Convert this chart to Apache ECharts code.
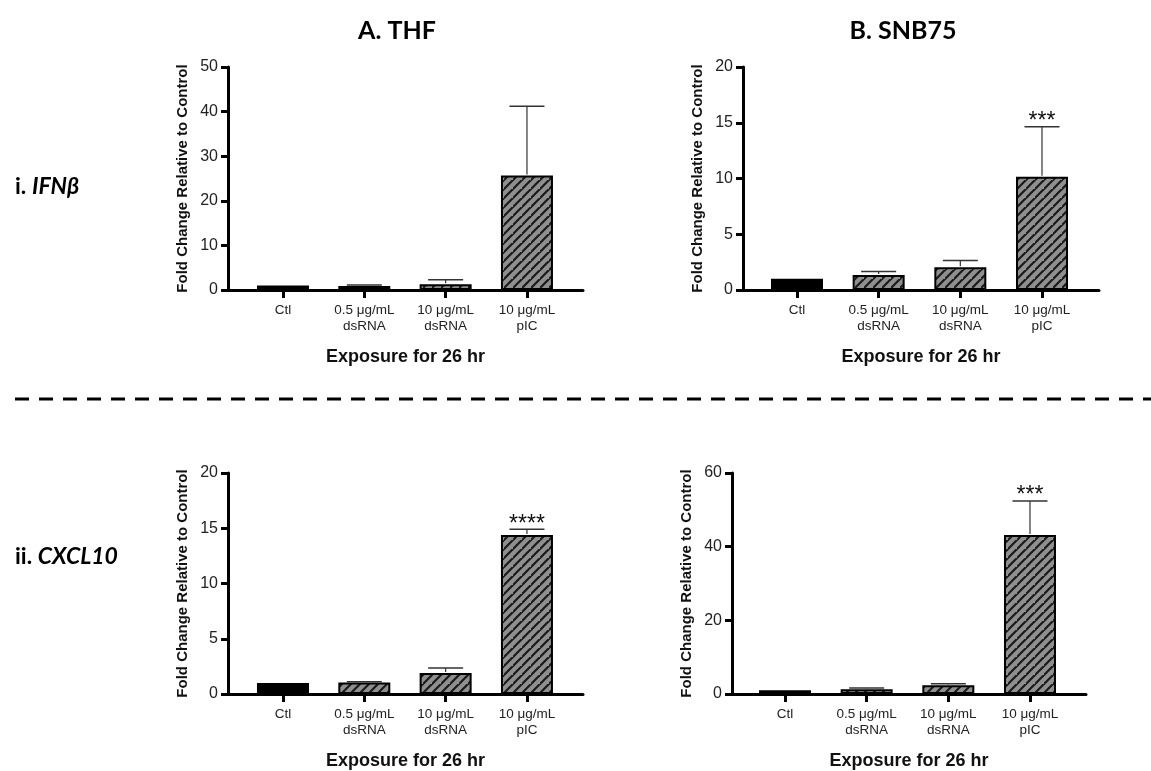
<!DOCTYPE html>
<html>
<head>
<meta charset="utf-8">
<script src="https://cdn.jsdelivr.net/npm/echarts@6/dist/echarts.min.js"></script>
<style>
html,body{margin:0;padding:0;background:#fff;}
#chart{width:1151px;height:771px;}
</style>
</head>
<body>
<div id="chart"></div>
<script>
// ---------- data ----------
const categories = ['Ctl', '0.5 μg/mL\ndsRNA', '10 μg/mL\ndsRNA', '10 μg/mL\npIC'];

const ifnbTHF = [1.0, 0.9, 1.3, 25.7];
const ifnbTHFErr = [0, 0.2, 1.0, 15.5];
const ifnbTHFSig = ['', '', '', ''];

const ifnbSNB75 = [1.0, 1.35, 2.05, 10.15];
const ifnbSNB75Err = [0, 0.3, 0.6, 4.5];
const ifnbSNB75Sig = ['', '', '', '***'];

const cxcl10THF = [1.0, 1.05, 1.9, 14.4];
const cxcl10THFErr = [0, 0.05, 0.45, 0.5];
const cxcl10THFSig = ['', '', '', '****'];

const cxcl10SNB75 = [1.0, 1.3, 2.4, 43.2];
const cxcl10SNB75Err = [0, 0.3, 0.4, 9.2];
const cxcl10SNB75Sig = ['', '', '', '***'];

const yMaxes = [50, 20, 20, 60];
const yIntervals = [10, 5, 5, 20];

const columnTitles = ['A. THF', 'B. SNB75'];
const rowTitles = [['i. ', 'IFNβ'], ['ii. ', 'CXCL10']];
const xAxisTitle = 'Exposure for 26 hr';
const yAxisTitle = 'Fold Change Relative to Control';

// ---------- styles ----------
function makeStripe() {
  const s = 9;
  const c = document.createElement('canvas');
  c.width = s; c.height = s;
  const g = c.getContext('2d');
  g.fillStyle = '#8f8f8f';
  g.fillRect(0, 0, s, s);
  g.strokeStyle = '#1a1a1a';
  g.lineWidth = 2.2;
  g.beginPath();
  g.moveTo(-1, s + 1); g.lineTo(s + 1, -1);
  g.moveTo(-1 - s, s + 1); g.lineTo(1, -1);
  g.moveTo(s - 1, 2 * s + 1); g.lineTo(2 * s + 1, s - 1);
  g.stroke();
  return c;
}
const stripe = { image: makeStripe(), repeat: 'repeat' };
const axisFont = 'Liberation Sans, Arial, sans-serif';

const panels = [
  { vals: ifnbTHF, err: ifnbTHFErr, sig: ifnbTHFSig, grid: { left: 228, top: 67, width: 355, height: 223 } },
  { vals: ifnbSNB75, err: ifnbSNB75Err, sig: ifnbSNB75Sig, grid: { left: 743, top: 67, width: 356, height: 223 } },
  { vals: cxcl10THF, err: cxcl10THFErr, sig: cxcl10THFSig, grid: { left: 228, top: 473, width: 355, height: 222 } },
  { vals: cxcl10SNB75, err: cxcl10SNB75Err, sig: cxcl10SNB75Sig, grid: { left: 732, top: 473, width: 354, height: 222 } }
];
const xRanges = [[-0.676, 3.689], [-0.661, 3.698], [-0.676, 3.689], [-0.649, 3.686]];

const grids = [], xAxes = [], yAxes = [], series = [];
panels.forEach((p, i) => {
  grids.push(p.grid);
  xAxes.push({
    type: 'value', gridIndex: i, min: xRanges[i][0], max: xRanges[i][1],
    splitLine: { show: false },
    axisLine: { show: true, lineStyle: { color: '#000', width: 3 } },
    axisTick: { show: true, customValues: [0, 1, 2, 3], length: 8, lineStyle: { color: '#000', width: 3 } },
    axisLabel: {
      customValues: [0, 1, 2, 3], margin: 12,
      formatter: v => categories[Math.round(v)],
      color: '#222', fontFamily: axisFont, fontSize: 13.5, lineHeight: 16
    },
    name: xAxisTitle, nameLocation: 'middle', nameGap: 58,
    nameTextStyle: { color: '#111', fontFamily: axisFont, fontSize: 18, fontWeight: 'bold' }
  });
  yAxes.push({
    type: 'value', gridIndex: i, min: 0, max: yMaxes[i], interval: yIntervals[i],
    splitLine: { show: false },
    axisLine: { show: true, onZero: false, lineStyle: { color: '#000', width: 3 } },
    axisTick: { show: true, length: 7, lineStyle: { color: '#000', width: 3 } },
    axisLabel: { margin: 10, color: '#222', fontFamily: axisFont, fontSize: 16 },
    name: yAxisTitle, nameLocation: 'middle', nameGap: 38,
    nameTextStyle: { color: '#111', fontFamily: axisFont, fontSize: 15, fontWeight: 'bold' }
  });
  series.push({
    type: 'bar', xAxisIndex: i, yAxisIndex: i, barWidth: 52,
    data: p.vals.map((v, k) => ({
      value: [k, v],
      itemStyle: { color: k === 0 ? '#000' : stripe, borderColor: '#000', borderWidth: 2 }
    })),
    z: 2
  });
  series.push({
    type: 'custom', xAxisIndex: i, yAxisIndex: i, z: 5,
    data: p.vals.map((v, k) => [k, v]),
    renderItem: (params, api) => {
      const idx = params.dataIndex;
      const x = api.value(0), v = api.value(1), e = p.err[idx], s = p.sig[idx];
      const children = [];
      const top = api.coord([x, v + e]);
      const base = api.coord([x, v]);
      if (e > 0) {
        children.push({ type: 'line', shape: { x1: base[0], y1: base[1] - 1, x2: top[0], y2: top[1] }, style: { stroke: '#333', lineWidth: 1.2 } });
        children.push({ type: 'line', shape: { x1: top[0] - 17.5, y1: top[1], x2: top[0] + 17.5, y2: top[1] }, style: { stroke: '#333', lineWidth: 1.5 } });
      }
      if (s) {
        children.push({ type: 'text', style: { text: s, x: top[0], y: top[1] - 5, align: 'center', verticalAlign: 'middle', fill: '#111', font: '23px "Liberation Sans", Arial, sans-serif' } });
      }
      return { type: 'group', children };
    }
  });
});

const titleFont = 'Lato, "Open Sans", sans-serif';
const richRow = {
  a: { fontFamily: titleFont, fontWeight: 'bold', fontSize: 23, fill: '#000' },
  b: { fontFamily: titleFont, fontWeight: 'bold', fontStyle: 'italic', fontSize: 23, fill: '#000' }
};
const chart = echarts.init(document.getElementById('chart'), null, { renderer: 'canvas' });
chart.setOption({
  animation: false,
  backgroundColor: '#fff',
  grid: grids, xAxis: xAxes, yAxis: yAxes, series,
  graphic: [
    { type: 'text', style: { text: columnTitles[0], x: 397, y: 31, align: 'center', verticalAlign: 'middle', fill: '#000', font: 'bold 25px ' + titleFont } },
    { type: 'text', style: { text: columnTitles[1], x: 903, y: 31, align: 'center', verticalAlign: 'middle', fill: '#000', font: 'bold 25px ' + titleFont } },
    { type: 'text', style: { text: '{a|' + rowTitles[0][0] + '}{b|' + rowTitles[0][1] + '}', x: 15, y: 187, align: 'left', verticalAlign: 'middle', rich: richRow } },
    { type: 'text', style: { text: '{a|' + rowTitles[1][0] + '}{b|' + rowTitles[1][1] + '}', x: 15, y: 557, align: 'left', verticalAlign: 'middle', rich: richRow } },
    { type: 'line', shape: { x1: 15, y1: 399, x2: 1151, y2: 399 }, style: { stroke: '#000', lineWidth: 3, lineDash: [14, 10] } }
  ]
});
</script>
</body>
</html>
